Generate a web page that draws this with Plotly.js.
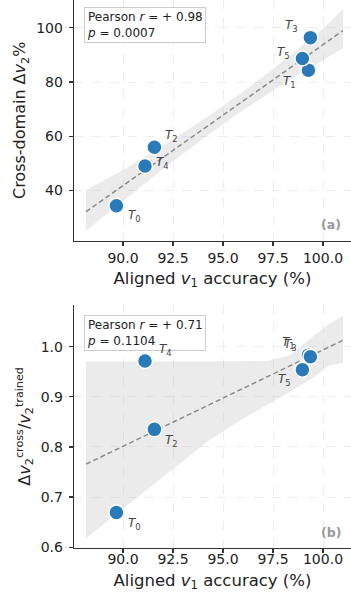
<!DOCTYPE html>
<html>
<head>
<meta charset="utf-8">
<script src="https://cdn.plot.ly/plotly-3.0.1.min.js"></script>
<style>html,body{margin:0;padding:0;background:#fff;}#chart{width:351px;height:592px;}</style>
</head>
<body>
<div id="chart"></div>
<script>
// ---- data ----
const tasks = ['T0', 'T1', 'T2', 'T3', 'T4', 'T5'];
const alignedAcc = [89.67, 99.27, 91.57, 99.37, 91.10, 98.97];
const crossDv2 = [34.3, 84.4, 55.9, 96.4, 49.0, 88.7];
const ratioDv2 = [0.669, 0.983, 0.835, 0.980, 0.9715, 0.954];

// fitted regression lines (endpoints)
const fitX = [88.15, 101.0];
const fitTopY = [32.1, 99.0];
const fitBottomY = [0.7656, 1.0127];

// confidence bands
const bandTopX = [88.15, 90, 92, 94, 96, 98, 100, 101.0];
const bandTopLow = [25.1, 35.9, 47.9, 59.1, 69.6, 79.3, 88.1, 92.5];
const bandTopHigh = [40.1, 47.5, 56.5, 66.1, 76.4, 87.7, 99.7, 106.9];
const bandBotX = [88.15, 90, 92, 94.3, 96, 97.25, 98.35, 99.5, 100.3, 101.0];
const bandBotLow = [0.618, 0.676, 0.740, 0.813, 0.856, 0.885, 0.910, 0.938, 0.962, 0.968];
const bandBotHigh = [0.970, 0.970, 0.971, 0.971, 0.971, 0.972, 0.983, 1.020, 1.045, 1.061];

const statsTop = {r: '+ 0.98', p: '0.0007'};
const statsBottom = {r: '+ 0.71', p: '0.1104'};

const xTicks = [90, 92.5, 95, 97.5, 100];
const xTickText = ['90.0', '92.5', '95.0', '97.5', '100.0'];
const yTopTicks = [40, 60, 80, 100];
const yBotTicks = [0.6, 0.7, 0.8, 0.9, 1.0];

// ---- styling ----
const FONT = 'DejaVu Sans, Verdana, sans-serif';
const BLUE = '#2a79b8';
const BAND = 'rgba(190,190,190,0.3)';

// label offsets in px (dx, dy with dy positive = up)
const offTop = [[18, -10], [-19, -12], [17, 11], [-19, 12], [17, 3], [-19, 5]];
const offBot = [[18, -11], [-20, 12], [17, -12], [-20, 12], [20, 11], [-18, -10]];

function band(x, lo, hi, xa, ya) {
  return [
    {x: x, y: lo, xaxis: xa, yaxis: ya, mode: 'lines', line: {width: 0, color: BAND}, hoverinfo: 'skip', showlegend: false},
    {x: x, y: hi, xaxis: xa, yaxis: ya, mode: 'lines', line: {width: 0, color: BAND}, fill: 'tonexty', fillcolor: BAND, hoverinfo: 'skip', showlegend: false}
  ];
}
function fit(y, xa, ya) {
  return {x: fitX, y: y, xaxis: xa, yaxis: ya, mode: 'lines', line: {color: '#8a8a8a', width: 1.5, dash: '5px,3px'}, showlegend: false, hoverinfo: 'skip'};
}
function pts(y, xa, ya) {
  return {x: alignedAcc, y: y, xaxis: xa, yaxis: ya, mode: 'markers', text: tasks,
    marker: {size: 15, color: BLUE, line: {color: '#ffffff', width: 1.5}}, showlegend: false};
}

const traces = [
  ...band(bandTopX, bandTopLow, bandTopHigh, 'x', 'y'),
  fit(fitTopY, 'x', 'y'),
  pts(crossDv2, 'x', 'y'),
  ...band(bandBotX, bandBotLow, bandBotHigh, 'x2', 'y2'),
  fit(fitBottomY, 'x2', 'y2'),
  pts(ratioDv2, 'x2', 'y2')
];

const W = 351, H = 592;
const xDom = [74 / W, 1];
const topDom = [1 - 240.7 / H, 1];
const botDom = [(H - 547.7) / H, (H - 305) / H];

function xax(anchor, labStand, titleStand) {
  return {
    domain: xDom, anchor: anchor, range: [87.55, 101.4],
    tickvals: xTicks, ticktext: xTickText,
    ticks: 'outside', ticklen: 4, tickwidth: 1.2, tickcolor: '#333',
    showline: true, linecolor: '#333', linewidth: 1.3,
    showgrid: true, gridcolor: '#ededed', griddash: 'dash', gridwidth: 1,
    zeroline: false, mirror: false, ticklabelstandoff: labStand,
    tickfont: {family: FONT, size: 14, color: '#222'},
    title: {text: 'Aligned <i>v</i><sub>1</sub> accuracy (%)', font: {family: FONT, size: 16.5, color: '#222'}, standoff: titleStand}
  };
}
function yax(anchor, dom, rng, ticks, fmt, title) {
  return {
    domain: dom, anchor: anchor, range: rng, tickvals: ticks, tickformat: fmt,
    ticks: 'outside', ticklen: 4, tickwidth: 1.2, tickcolor: '#333',
    showline: true, linecolor: '#333', linewidth: 1.3,
    showgrid: true, gridcolor: '#ededed', griddash: 'dash', gridwidth: 1,
    zeroline: false, ticklabelstandoff: 3,
    tickfont: {family: FONT, size: 14, color: '#222'},
    title: {text: title, font: {family: FONT, size: 16, color: '#222'}, standoff: 6}
  };
}

const annotations = [];
function statBox(s, yPx) {
  annotations.push({
    xref: 'paper', yref: 'paper', x: 84 / W, y: 1 - yPx / H, xanchor: 'left', yanchor: 'top',
    showarrow: false, align: 'left',
    text: 'Pearson <i>r</i> = ' + s.r + '<br><i>p</i> = ' + s.p,
    font: {family: FONT, size: 12, color: '#222'},
    bgcolor: 'rgba(255,255,255,0.85)', bordercolor: '#cccccc', borderwidth: 1, borderpad: 2
  });
}
statBox(statsTop, 7.3);
statBox(statsBottom, 315);

function labels(yvals, offs, xr, yr) {
  tasks.forEach((t, i) => {
    annotations.push({
      x: alignedAcc[i], y: yvals[i], xref: xr, yref: yr, showarrow: false,
      text: '<i>T</i><sub>' + t.slice(1) + '</sub>',
      xshift: offs[i][0], yshift: offs[i][1],
      font: {family: FONT, size: 12, color: '#444'}
    });
  });
}
labels(crossDv2, offTop, 'x', 'y');
labels(ratioDv2, offBot, 'x2', 'y2');

function panelTag(txt, yPx) {
  annotations.push({
    xref: 'paper', yref: 'paper', x: 343 / W, y: 1 - yPx / H, xanchor: 'right', yanchor: 'middle',
    showarrow: false, text: '<b>' + txt + '</b>', font: {family: FONT, size: 12.5, color: '#999999'}
  });
}
panelTag('(a)', 224);
panelTag('(b)', 532);

const layout = {
  width: W, height: H,
  margin: {l: 0, r: 0, t: 0, b: 0},
  paper_bgcolor: '#ffffff', plot_bgcolor: '#ffffff',
  showlegend: false,
  font: {family: FONT},
  xaxis: xax('y', 0, 7),
  yaxis: yax('x', topDom, [21.4, 110.3], yTopTicks, 'd', 'Cross-domain Δ<i>v</i><sub>2</sub>%'),
  xaxis2: xax('y2', -6, 18),
  yaxis2: yax('x2', botDom, [0.599, 1.083], yBotTicks, '.1f', 'Δ<i>v</i><sub>2</sub><sup>cross</sup>/<i>v</i><sub>2</sub><sup>trained</sup>'),
  annotations: annotations
};

Plotly.newPlot('chart', traces, layout, {staticPlot: true, displayModeBar: false});
</script>
</body>
</html>
